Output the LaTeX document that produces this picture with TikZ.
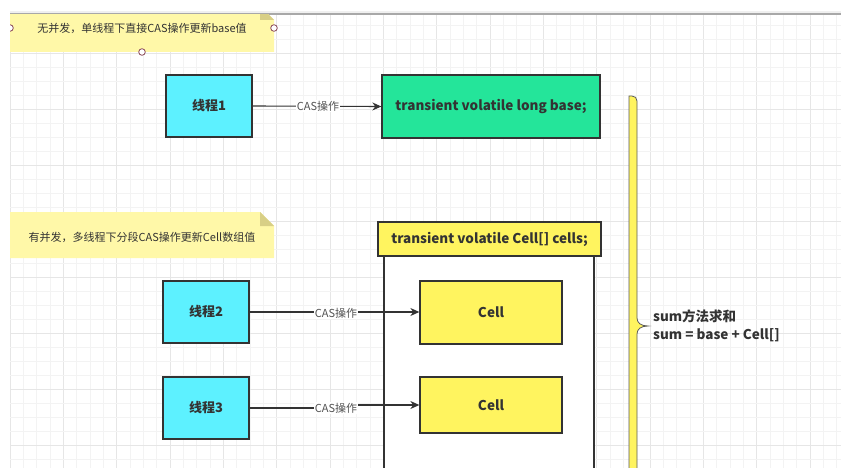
\documentclass[tikz,border=0pt]{standalone}
\usepackage{fontspec}
\setmainfont{Noto Sans CJK SC}
\usetikzlibrary{arrows.meta,calc}
\definecolor{gridminor}{HTML}{F3F3F3}
\definecolor{gridmajor}{HTML}{E6E6E6}
\definecolor{topline}{HTML}{A8A8A8}
\definecolor{notefill}{HTML}{FFF8A8}
\definecolor{notefold}{HTML}{D8CF86}
\definecolor{threadfill}{HTML}{5DF1FF}
\definecolor{basefill}{HTML}{24E59A}
\definecolor{cellfill}{HTML}{FFF45F}
\definecolor{ink}{HTML}{333333}
\definecolor{handle}{HTML}{8A4A58}
\tikzset{
  thread/.style={draw=ink, line width=1.3pt, fill=threadfill, minimum width=86pt, minimum height=62pt, inner sep=0pt, font=\fontsize{13}{15}\selectfont\bfseries, text=ink},
  basebox/.style={draw=ink, line width=1.3pt, fill=basefill, minimum width=218pt, minimum height=63pt, inner sep=0pt, font=\fontsize{13.5}{16}\selectfont\bfseries, text=ink},
  cellbox/.style={draw=ink, line width=1.3pt, fill=cellfill, minimum width=142pt, inner sep=0pt, font=\fontsize{13.5}{16}\selectfont\bfseries, text=ink},
  headbox/.style={draw=ink, line width=1.3pt, fill=cellfill, minimum width=223pt, minimum height=34pt, inner sep=0pt, font=\fontsize{13.5}{16}\selectfont\bfseries, text=ink},
  conn/.style={draw=ink, line width=1.1pt, -{Stealth[length=9pt,width=8pt]}},
  plainconn/.style={draw=ink, line width=1.1pt},
  caslabel/.style={fill=white, inner sep=0.5pt, font=\fontsize{11}{13}\selectfont, text=ink!85},
  notetext/.style={font=\fontsize{11}{13}\selectfont, text=ink, inner sep=0pt},
  handlecirc/.style={draw=handle, fill=white, line width=0.8pt},
  bracetext/.style={font=\fontsize{13.5}{18}\selectfont\bfseries, text=ink, align=left, anchor=west, inner sep=0pt},
}
\begin{document}
\begin{tikzpicture}[x=1pt,y=-1pt]
\useasboundingbox (0,0) rectangle (841,468);
\fill[white] (0,0) rectangle (841,468);
% grid
\foreach \i in {0,...,62} {
  \pgfmathsetmacro{\gx}{10+\i*13.333}
  \pgfmathtruncatemacro{\m}{mod(\i,4)}
  \ifnum\m=0
    \draw[gridmajor, line width=0.8pt] (\gx,14) -- (\gx,468);
  \else
    \draw[gridminor, line width=0.8pt] (\gx,14) -- (\gx,468);
  \fi
}
\foreach \j in {0,...,32} {
  \pgfmathsetmacro{\gy}{25.33+\j*14}
  \pgfmathtruncatemacro{\m}{mod(\j,4)}
  \ifnum\m=2
    \draw[gridmajor, line width=0.8pt] (10,\gy) -- (841,\gy);
  \else
    \draw[gridminor, line width=0.8pt] (10,\gy) -- (841,\gy);
  \fi
}
\fill[gray!12] (10,11.5) rectangle (841,13.5);
\draw[topline, line width=1.2pt] (10,14) -- (841,14);

\begin{scope}
\clip (10,14.6) rectangle (841,470);
% note 1
\fill[notefill] (0,6) -- (260,6) -- (274,20) -- (274,52) -- (0,52) -- cycle;
\fill[notefold] (260,6) -- (260,20) -- (274,20) -- cycle;
\node[notetext] (n1) at (142,28) {无并发，单线程下直接CAS操作更新base值};
\draw[handlecirc] (10,28) circle (3.3);
\draw[handlecirc] (274,28) circle (3.3);
\draw[handlecirc] (142,52) circle (3.3);
% note 2
\fill[notefill] (0,212) -- (260,212) -- (274,226) -- (274,258) -- (0,258) -- cycle;
\fill[notefold] (260,212) -- (260,226) -- (274,226) -- cycle;
\node[notetext] (n2) at (142,237) {有并发，多线程下分段CAS操作更新Cell数组值};

% container body
\filldraw[fill=white, draw=ink, line width=1.3pt] (384,480) -- (384,256) -- (594,256) -- (594,480);
\node[headbox] (head) at (489.5,239) {transient volatile Cell[] cells;};

% top row
\node[thread] (t1) at (209,106) {线程1};
\node[basebox] (base) at (491,106.5) {transient volatile long base;};
\draw[conn] (t1.east) -- (base.west);
\node[caslabel] (l1) at (318,106) {CAS操作};

% threads 2 & 3 and cells
\node[thread] (t2) at (206,312) {线程2};
\node[cellbox, minimum height=63pt] (c1) at (491,312.5) {Cell};
\draw[conn] (t2.east) -- (t2.east -| c1.west);
\node[caslabel] (l2) at (336,313) {CAS操作};

\node[thread] (t3) at (206,408) {线程3};
\node[cellbox, minimum height=56pt] (c2) at (491,405) {Cell};
\coordinate (k3) at (336,408);
\draw[plainconn] (t3.east) -- (t3.east -| k3) -- (c2.west -| k3);
\draw[conn] (c2.west -| k3) -- (c2.west);
\node[caslabel] (l3) at (k3) {CAS操作};

% brace
\filldraw[fill=cellfill, draw=ink!80, line width=0.8pt]
  (629,480) -- (629,96) -- (632,96) .. controls (635,96) and (637,98) .. (637,101)
  -- (637,318) .. controls (637,323) and (641,326) .. (648,326)
  .. controls (641,326) and (637,329) .. (637,334) -- (637,480) -- cycle;
\node[bracetext] (sumtxt) at (653,326) {sum方法求和\\sum = base + Cell[]};
\end{scope}
\end{tikzpicture}
\end{document}
